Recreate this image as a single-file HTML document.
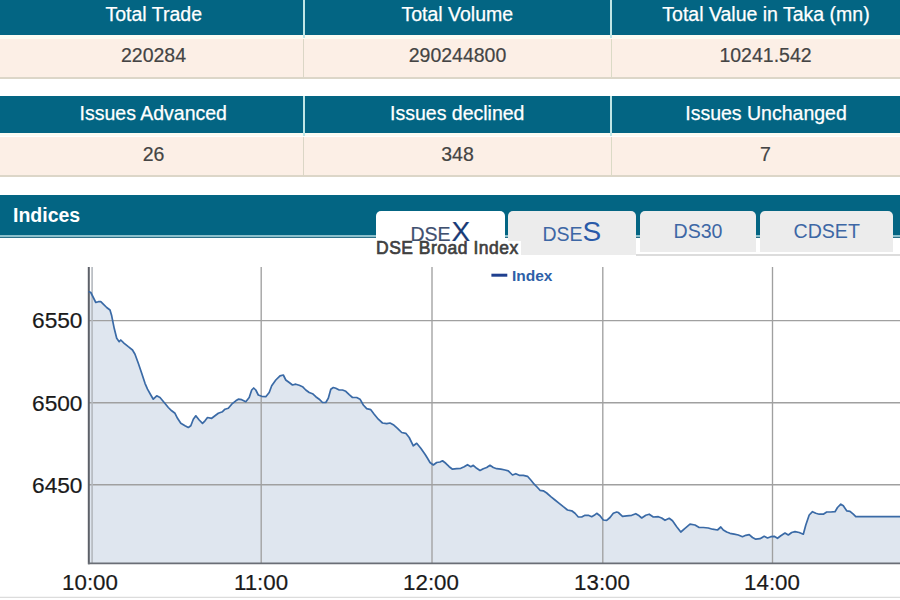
<!DOCTYPE html>
<html><head><meta charset="utf-8">
<style>
html,body{margin:0;padding:0}
body{width:900px;height:600px;overflow:hidden;background:#fff;position:relative;font-family:"Liberation Sans",sans-serif}
.a{position:absolute}
.hd{position:absolute;background:#036583;color:#fff;font-size:19.5px;-webkit-text-stroke:0.25px #fff;text-align:center;white-space:nowrap}
.cr{position:absolute;background:#fcefe6;color:#444;-webkit-text-stroke:0.2px #444;font-size:19.5px;text-align:center;white-space:nowrap}
.tab{position:absolute;top:210.5px;height:43px;background:#ececec;border-radius:5px 5px 0 0;text-align:center;color:#3f6db3;white-space:nowrap}
</style></head><body>

<!-- table 1 -->
<div class="a" style="left:0;top:35px;width:900px;height:3.5px;background:#fbfbf2"></div>
<div class="a" style="left:0;top:-2px;width:900px;height:37px;background:#036583"></div>
<div class="a" style="left:302.5px;top:-2px;width:2px;height:40px;background:#bfe6e6"></div>
<div class="a" style="left:610px;top:-2px;width:2px;height:40px;background:#bfe6e6"></div>
<div class="hd" style="left:0.5px;top:-4px;width:306.5px;height:37px;line-height:37px;background:transparent">Total Trade</div>
<div class="hd" style="left:304.5px;top:-4px;width:305.5px;height:37px;line-height:37px;background:transparent">Total Volume</div>
<div class="hd" style="left:612.5px;top:-4px;width:307px;height:37px;line-height:37px;background:transparent">Total Value in Taka (mn)</div>
<div class="cr" style="left:0;top:38.5px;width:900px;height:38.5px"></div>
<div class="a" style="left:0;top:77px;width:900px;height:1.5px;background:#dcd6c8"></div>
<div class="a" style="left:303px;top:38.5px;width:1.2px;height:39px;background:#dbd6c6"></div>
<div class="a" style="left:610.5px;top:38.5px;width:1.2px;height:39px;background:#dbdac6"></div>
<div class="cr" style="left:0;top:36.5px;width:307px;height:38.5px;line-height:37px;background:transparent">220284</div>
<div class="cr" style="left:304px;top:36.5px;width:307px;height:38.5px;line-height:37px;background:transparent">290244800</div>
<div class="cr" style="left:612px;top:36.5px;width:307px;height:38.5px;line-height:37px;background:transparent">10241.542</div>

<!-- table 2 -->
<div class="a" style="left:0;top:133.3px;width:900px;height:3.2px;background:#fbfbf2"></div>
<div class="a" style="left:0;top:96.3px;width:900px;height:37px;background:#036583"></div>
<div class="a" style="left:302.5px;top:96.3px;width:2px;height:40px;background:#bfe6e6"></div>
<div class="a" style="left:610px;top:96.3px;width:2px;height:40px;background:#bfe6e6"></div>
<div class="hd" style="left:0px;top:95.3px;width:306.5px;height:37px;line-height:37px;background:transparent">Issues Advanced</div>
<div class="hd" style="left:304.5px;top:95.3px;width:305.5px;height:37px;line-height:37px;background:transparent">Issues declined</div>
<div class="hd" style="left:612.5px;top:95.3px;width:307px;height:37px;line-height:37px;background:transparent">Issues Unchanged</div>
<div class="cr" style="left:0;top:136.5px;width:900px;height:38.5px"></div>
<div class="a" style="left:0;top:175px;width:900px;height:1.5px;background:#dcd6c8"></div>
<div class="a" style="left:303px;top:136.5px;width:1.2px;height:39px;background:#dbd6c6"></div>
<div class="a" style="left:610.5px;top:136.5px;width:1.2px;height:39px;background:#dbdac6"></div>
<div class="cr" style="left:0;top:136.3px;width:307px;height:38.7px;line-height:37px;background:transparent">26</div>
<div class="cr" style="left:304px;top:136.3px;width:307px;height:38.7px;line-height:37px;background:transparent">348</div>
<div class="cr" style="left:612px;top:136.3px;width:307px;height:38.7px;line-height:37px;background:transparent">7</div>

<!-- indices bar -->
<div class="a" style="left:0;top:194.5px;width:900px;height:40px;background:#036583"></div>
<div class="a" style="left:0;top:234.5px;width:900px;height:2px;background:#8cc0cc"></div>
<div class="a" style="left:0;top:236.5px;width:900px;height:1.5px;background:#2c7088"></div>
<div class="a" style="left:13px;top:194.5px;height:39px;line-height:41px;color:#fff;font-weight:bold;font-size:19.5px">Indices</div>

<!-- tabs -->
<div class="tab" style="left:376px;width:128.5px;background:#fff;height:45px"></div>
<div class="tab" style="left:508px;width:128.3px;height:44.8px"></div>
<div class="tab" style="left:639.8px;width:116.6px;height:41px"></div>
<div class="tab" style="left:760px;width:133px;height:41px"></div>
<div class="a" style="left:636px;top:254.3px;width:264px;height:1.7px;background:#dcdcdc"></div>

<div class="a" style="left:410.5px;top:216.5px;color:#3f5070;-webkit-text-stroke:0.2px #3f5070;font-size:19.5px;line-height:30px;white-space:nowrap">DSE<span style="font-size:28px;color:#173a78;margin-left:1px">X</span></div>
<div class="a" style="left:542.5px;top:216.5px;color:#3d67a5;font-size:19.5px;line-height:30px;white-space:nowrap">DSE<span style="font-size:28px;color:#2a5aa8;margin-left:0px">S</span></div>
<div class="a" style="left:673.5px;top:216.3px;color:#3d67a5;font-size:19.6px;line-height:30px;white-space:nowrap">DS30</div>
<div class="a" style="left:793.5px;top:216.3px;color:#3d67a5;font-size:19.6px;line-height:30px;white-space:nowrap">CDSET</div>

<div class="a" style="left:370px;top:240.6px;width:151px;height:15px;background:#fff"></div>
<div class="a" style="left:376px;top:236px;color:#404040;font-weight:normal;-webkit-text-stroke:0.65px #404040;font-size:17.5px;letter-spacing:0.5px;line-height:24px;white-space:nowrap">DSE Broad Index</div>

<!-- chart -->
<svg class="a" style="left:0;top:0" width="900" height="600" viewBox="0 0 900 600">
  <path d="M88,563 L88.5,291.5 L89.2,291.7 L90.8,292.5 L93.3,297.5 L95.8,302.5 L98.3,301.7 L100.8,301.7 L103.3,304.2 L106.7,307.5 L110,310 L111.7,315.8 L114.2,328.3 L116.7,338.3 L119.2,341.7 L120.8,340 L124.2,343.3 L128.3,346.7 L132.5,350 L135,354.2 L138.3,363.3 L141.7,373.3 L145,383.3 L147.5,389.2 L150.8,395 L153.3,399.2 L156.7,395.8 L160,397.5 L164.2,402.5 L168.3,407.5 L171.7,410.8 L175,413.3 L177.5,418.3 L180.8,423.3 L185,425.8 L188.3,427.5 L190.8,425.8 L193.3,419.2 L195.8,415.8 L199.2,420 L202.5,423.3 L205,420.8 L207.5,417.5 L211.7,418.3 L215,415.8 L218.3,413.3 L222.5,411.7 L225,409.2 L228.3,408.3 L231.7,404.2 L235.8,400.8 L238.3,399.2 L241.7,399.7 L245.8,401.7 L249.2,397.5 L251.7,390 L253.7,388 L255.8,390 L258.3,395 L261.7,396.3 L265.8,396.7 L269.2,392.5 L271.7,385.8 L275.8,380 L280,375.8 L283.3,375 L285.8,380 L289.2,382.5 L292.5,385 L295.8,384.2 L299.2,385.3 L302.5,386.7 L305.8,390 L309.2,392.5 L312.5,393.7 L315.8,396.7 L319.2,399.2 L322.5,402.5 L325.8,402.5 L328.3,398.3 L330.8,389.2 L333.3,387.5 L335.8,388.3 L339.2,390 L342.5,390 L345.8,391.3 L349.2,394.7 L352.5,397.5 L356.7,397.5 L360,399.2 L363.3,405 L366.7,408.7 L370.8,409.7 L374.2,414.2 L378.3,419.2 L382.5,423 L386.7,423.7 L390,423 L393.3,424.7 L397.5,428.3 L401.7,432.5 L405.8,433.3 L409.2,437.5 L413.3,445.8 L416.7,443.3 L420.8,448.3 L425,454.2 L427.5,458.3 L430,462.5 L433.3,465 L436.7,462.5 L440,462 L442.5,460.8 L445.8,463.3 L449.2,466.7 L452.5,469.2 L456.7,468.7 L460.8,468.3 L464.2,466.7 L467.5,464.7 L470.8,466.7 L473.3,465.3 L476.7,468.3 L480,470.5 L483.3,468.7 L486.7,467.5 L490,465.3 L493.3,467.5 L496.7,468.7 L500.8,469.2 L505,470 L508.3,470.8 L512.5,475 L515.8,473.7 L519.2,475.3 L523.3,475.3 L527.5,476.3 L530.8,480 L534.2,484.2 L537.5,487.5 L540,490.3 L543.3,490.8 L546.7,493 L550.8,496.7 L555,500 L559.2,503.3 L563.3,506.7 L567.5,510 L571.7,510.8 L575,513.3 L578.3,517 L581.7,517 L585,515.3 L588.3,515.3 L591.7,516.7 L594.2,515.3 L596.7,513.3 L600,515.8 L603.3,520 L606.7,520.3 L610,517.5 L613.3,513.3 L616.7,512 L618.3,512.5 L622.5,516.3 L626.7,515.8 L631.7,515.3 L635.8,513.7 L639.2,515.8 L641.7,518 L645.8,515.3 L649.2,514.2 L653.3,517 L658.3,516.7 L661.7,518 L665,520.3 L669.2,518.3 L672.5,520.8 L676.7,526.7 L680.8,532 L685,528.3 L690,524.2 L695,525 L699.2,527.5 L703.3,527.5 L708.3,528 L712.5,529.2 L717.5,530 L720.8,527 L723.3,530 L726.7,532 L730,533.3 L734.2,534.2 L738.3,535 L742.5,536.7 L745.8,535.3 L749.2,534.7 L752.5,537.5 L755.8,539.2 L760,538.7 L764.2,536.3 L767.5,538 L770.8,536.7 L774.2,536.3 L777.5,538.3 L780.8,535.8 L785,533 L788.3,535 L791.7,532.5 L795,531.7 L799.2,532.5 L803.3,534.2 L805.8,525 L809.2,515 L812.5,511.7 L815.8,513.3 L819.2,514.2 L823.3,514.2 L826.7,512 L830.8,512 L835,511.7 L837.5,507.5 L840.8,504.2 L843.3,505.8 L846.7,510.8 L850,511.3 L853.3,514.2 L855.8,516.7 L902,516.7 L902,563 Z" fill="#dfe6ef"/>
  <g stroke="#a0a0a0" stroke-width="1.35" fill="none">
    <line x1="88" y1="320.6" x2="900" y2="320.6"/>
    <line x1="88" y1="402.7" x2="900" y2="402.7"/>
    <line x1="88" y1="484.7" x2="900" y2="484.7"/>
    <line x1="261.2" y1="267" x2="261.2" y2="563"/>
    <line x1="432" y1="267" x2="432" y2="563"/>
    <line x1="602.8" y1="267" x2="602.8" y2="563"/>
    <line x1="772.5" y1="267" x2="772.5" y2="563"/>
  </g>
  <line x1="92.1" y1="267" x2="92.1" y2="563" stroke="#b4b8be" stroke-width="1.6"/>
  <line x1="88.8" y1="267" x2="88.8" y2="564.2" stroke="#5c6068" stroke-width="2"/>
  <line x1="88" y1="563.4" x2="900" y2="563.4" stroke="#6a6e76" stroke-width="1.8"/>
  <polyline points="88.5,291.5 89.2,291.7 90.8,292.5 93.3,297.5 95.8,302.5 98.3,301.7 100.8,301.7 103.3,304.2 106.7,307.5 110,310 111.7,315.8 114.2,328.3 116.7,338.3 119.2,341.7 120.8,340 124.2,343.3 128.3,346.7 132.5,350 135,354.2 138.3,363.3 141.7,373.3 145,383.3 147.5,389.2 150.8,395 153.3,399.2 156.7,395.8 160,397.5 164.2,402.5 168.3,407.5 171.7,410.8 175,413.3 177.5,418.3 180.8,423.3 185,425.8 188.3,427.5 190.8,425.8 193.3,419.2 195.8,415.8 199.2,420 202.5,423.3 205,420.8 207.5,417.5 211.7,418.3 215,415.8 218.3,413.3 222.5,411.7 225,409.2 228.3,408.3 231.7,404.2 235.8,400.8 238.3,399.2 241.7,399.7 245.8,401.7 249.2,397.5 251.7,390 253.7,388 255.8,390 258.3,395 261.7,396.3 265.8,396.7 269.2,392.5 271.7,385.8 275.8,380 280,375.8 283.3,375 285.8,380 289.2,382.5 292.5,385 295.8,384.2 299.2,385.3 302.5,386.7 305.8,390 309.2,392.5 312.5,393.7 315.8,396.7 319.2,399.2 322.5,402.5 325.8,402.5 328.3,398.3 330.8,389.2 333.3,387.5 335.8,388.3 339.2,390 342.5,390 345.8,391.3 349.2,394.7 352.5,397.5 356.7,397.5 360,399.2 363.3,405 366.7,408.7 370.8,409.7 374.2,414.2 378.3,419.2 382.5,423 386.7,423.7 390,423 393.3,424.7 397.5,428.3 401.7,432.5 405.8,433.3 409.2,437.5 413.3,445.8 416.7,443.3 420.8,448.3 425,454.2 427.5,458.3 430,462.5 433.3,465 436.7,462.5 440,462 442.5,460.8 445.8,463.3 449.2,466.7 452.5,469.2 456.7,468.7 460.8,468.3 464.2,466.7 467.5,464.7 470.8,466.7 473.3,465.3 476.7,468.3 480,470.5 483.3,468.7 486.7,467.5 490,465.3 493.3,467.5 496.7,468.7 500.8,469.2 505,470 508.3,470.8 512.5,475 515.8,473.7 519.2,475.3 523.3,475.3 527.5,476.3 530.8,480 534.2,484.2 537.5,487.5 540,490.3 543.3,490.8 546.7,493 550.8,496.7 555,500 559.2,503.3 563.3,506.7 567.5,510 571.7,510.8 575,513.3 578.3,517 581.7,517 585,515.3 588.3,515.3 591.7,516.7 594.2,515.3 596.7,513.3 600,515.8 603.3,520 606.7,520.3 610,517.5 613.3,513.3 616.7,512 618.3,512.5 622.5,516.3 626.7,515.8 631.7,515.3 635.8,513.7 639.2,515.8 641.7,518 645.8,515.3 649.2,514.2 653.3,517 658.3,516.7 661.7,518 665,520.3 669.2,518.3 672.5,520.8 676.7,526.7 680.8,532 685,528.3 690,524.2 695,525 699.2,527.5 703.3,527.5 708.3,528 712.5,529.2 717.5,530 720.8,527 723.3,530 726.7,532 730,533.3 734.2,534.2 738.3,535 742.5,536.7 745.8,535.3 749.2,534.7 752.5,537.5 755.8,539.2 760,538.7 764.2,536.3 767.5,538 770.8,536.7 774.2,536.3 777.5,538.3 780.8,535.8 785,533 788.3,535 791.7,532.5 795,531.7 799.2,532.5 803.3,534.2 805.8,525 809.2,515 812.5,511.7 815.8,513.3 819.2,514.2 823.3,514.2 826.7,512 830.8,512 835,511.7 837.5,507.5 840.8,504.2 843.3,505.8 846.7,510.8 850,511.3 853.3,514.2 855.8,516.7 902,516.7" fill="none" stroke="#3a6aa6" stroke-width="1.7" stroke-linejoin="round"/>
  <line x1="491.4" y1="275.2" x2="507.3" y2="275.2" stroke="#1f3f8f" stroke-width="3"/>
  <line x1="0" y1="597.3" x2="900" y2="597.3" stroke="#dcdcdc" stroke-width="1.2"/>
</svg>
<div class="a" style="left:512px;top:266px;color:#2e5fa8;font-weight:bold;font-size:15.5px;line-height:20px">Index</div>

<div class="a" style="left:27px;top:305px;width:55.5px;text-align:right;font-size:22.7px;line-height:30px;color:#1a1a1a;-webkit-text-stroke:0.2px #1a1a1a">6550</div>
<div class="a" style="left:27px;top:388px;width:55.5px;text-align:right;font-size:22.7px;line-height:30px;color:#1a1a1a;-webkit-text-stroke:0.2px #1a1a1a">6500</div>
<div class="a" style="left:27px;top:470px;width:55.5px;text-align:right;font-size:22.7px;line-height:30px;color:#1a1a1a;-webkit-text-stroke:0.2px #1a1a1a">6450</div>

<div class="a" style="left:40px;top:567.5px;width:100px;text-align:center;font-size:22.3px;line-height:30px;color:#1a1a1a;-webkit-text-stroke:0.2px #1a1a1a">10:00</div>
<div class="a" style="left:211px;top:567.5px;width:100px;text-align:center;font-size:22.3px;line-height:30px;color:#1a1a1a;-webkit-text-stroke:0.2px #1a1a1a">11:00</div>
<div class="a" style="left:381px;top:567.5px;width:100px;text-align:center;font-size:22.3px;line-height:30px;color:#1a1a1a;-webkit-text-stroke:0.2px #1a1a1a">12:00</div>
<div class="a" style="left:552px;top:567.5px;width:100px;text-align:center;font-size:22.3px;line-height:30px;color:#1a1a1a;-webkit-text-stroke:0.2px #1a1a1a">13:00</div>
<div class="a" style="left:722px;top:567.5px;width:100px;text-align:center;font-size:22.3px;line-height:30px;color:#1a1a1a;-webkit-text-stroke:0.2px #1a1a1a">14:00</div>

</body></html>
